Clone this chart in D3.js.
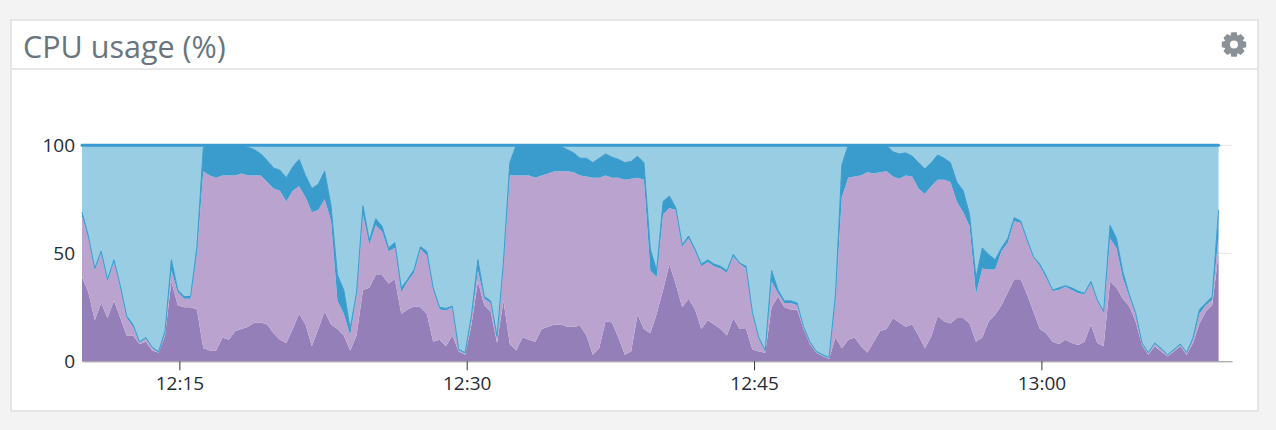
<!DOCTYPE html>
<html>
<head>
<meta charset="utf-8">
<script src="https://cdn.jsdelivr.net/npm/d3@7"></script>
<style>
  html, body { margin: 0; padding: 0; background: #f3f3f3; }
  svg { display: block; }
</style>
</head>
<body>
<svg id="chart" width="1276" height="430"></svg>
<script>
// ---- data (20 s samples, percent) ----
const startTime = "2024-01-01T12:09:55";
const stepSeconds = 20;
const yTicks = [0, 50, 100];
const xTickLabels = ["12:15", "12:30", "12:45", "13:00"];
const title = "CPU usage (%)";
const seriesNames = ["user", "system", "iowait", "idle"];

const user = [39,32,19,27,20,28,20,12,12,8,9,5,4,12,37,26,25,25,24,6,5,5,11,10,14,15,16,18,18,17,13,10,8.5,15,22,17,7,15,23,17,15,12,5,12,33,34,40,40,36,38,22,24,25.5,25,22,9,10,7,12,4.5,3,17,37,26,23,8.5,28,8,5,11,10,9,15,16,17,17,16,16,16.5,12,3,6,18.5,18,11,3,4.5,21.5,15,13,22,33,45,35.5,25,29,24,15,19,17,15,12,20,15,15,5.5,4.5,4,25,30,25,24,24,15,8,4,2.3,1.2,11,6,10,11,7,4,9,14,15,20,18,16,17,12,6,11.5,21,18.5,17.5,20,20,17.5,9,11,18.5,21.5,26,32,38,38,31,23,15,13,9,8,10,8.5,7.5,9,17,8.5,7,37,34,29,25.5,18.5,7.5,3,7,4.5,2.3,4.5,7,3,8.5,17.5,23,26,50];

const system = [28,25,23,23,17,18,14,8,4,0.5,1.5,1,0,1,5,6,4,4,26,82,81,80,75,76,72,72,70,68,68,66,67,69,65.5,64,59,59,62,55,52,48,13,10,7,19,35,20,23,20,15,14.5,10,13,15.5,27,27,24,14,16.5,13,0.5,0.5,3,5,3,4,2.5,16,78,81,75,76,76,71,71,71,71,72,71.5,69.5,73.5,82,79,67.5,67,74,81,80,63.5,69,29,17,35,26,34.5,28,28,27,29,27,27,28,29,28.5,30,28,16,5.5,0.5,12,1.5,2,3,2,0.5,0.5,0.2,0.3,0.3,18,70,75,74.5,79,83.5,78,73.5,73,65.5,66.5,70,68.5,68,71.5,69.5,63,65.5,65.5,54,49,45,22,32,24,21,25,23,27,26,24.5,25,29,25.5,23.5,25,24.5,24.5,24,22,19,19.5,15.5,20,18.5,9.5,4.5,3,0.5,0.5,1,1,0.4,0.5,0.5,0.5,1.5,4.5,3,2.5,8];

const iowait = [2,1,1,1,1,1,1,1,1,0.5,0.5,0.5,0.5,1,5,1,1,1,3,11,14,15,14,14,14,13,13,12,10,10,9.5,9.5,11,11,12.5,10,11,12,13,7,12,11,3,1,4,2,3,2.5,1.5,2.5,2,1,1.5,1,2,1,1,1,0.5,0.5,0.5,1.5,5,1,1,0.5,2,6,14,14,14,15,14,13,12,11.5,10,9,8,8.5,7,9,10,9.5,8.5,8,8,10,8,10,3,6,5.5,1,1,1,1,1,1,1,1,1,1,0.5,1,1,1,0.5,5,1.5,1,1,1,0.5,0.5,0.4,0.4,0.3,2,15,15,14.5,14,12.5,13,12.5,12,11.5,11.5,10.5,9.5,12,11.5,11,11.5,10,9,9,10,5.5,7.5,9.5,7,4.5,1.5,2,1.5,1,1,0.5,1,1,0.5,1,0.5,1,1,0.5,1,0.5,0.5,6,4.5,3,1,1,0.5,0.5,0.5,0.5,0.3,0.5,0.5,0.5,1,2,1,1.5,12];

// ---- build table ----
const t0 = new Date(startTime);
const rows = user.map((u, i) => {
  const s = system[i], w = iowait[i];
  return {
    time: d3.timeSecond.offset(t0, i * stepSeconds),
    user: u, system: s, iowait: w,
    idle: Math.max(0, 100 - u - s - w)
  };
});

const colors = { user: "#947fb8", system: "#bba3d0", iowait: "#3a9bcd", idle: "#99cde4" };

// ---- layout ----
const svg = d3.select("#chart");
const W = 1276, H = 430;
const panel = { x: 11, y: 20, w: 1247, h: 391, header: 49 };
const plot = { left: 82, right: 1232, top: 145.3, bottom: 361.3 };

svg.append("rect").attr("width", W).attr("height", H).attr("fill", "#f3f3f3");
svg.append("rect")
  .attr("x", panel.x).attr("y", panel.y).attr("width", panel.w).attr("height", panel.h)
  .attr("fill", "#ffffff").attr("stroke", "#dfdfe3").attr("stroke-width", 1.5);
svg.append("line")
  .attr("x1", panel.x).attr("x2", panel.x + panel.w)
  .attr("y1", panel.y + panel.header).attr("y2", panel.y + panel.header)
  .attr("stroke", "#dfdfe3").attr("stroke-width", 1.5);

svg.append("text")
  .attr("x", 23).attr("y", 58)
  .attr("font-family", "'Open Sans', sans-serif").attr("font-size", 30.5)
  .attr("fill", "#68757e").text(title);

// gear icon
(function gear() {
  const cx = 1234, cy = 44.5, teeth = 8, rOut = 12.5, rIn = 9.6, hole = 4;
  const pts = [];
  for (let k = 0; k < teeth; k++) {
    const a = (k / teeth) * 2 * Math.PI;
    const half = Math.PI / teeth;
    const tw = half * 0.55;
    pts.push([a - half + 0.02, rIn], [a - tw, rOut], [a + tw, rOut], [a + half - 0.02, rIn]);
  }
  const p = d3.path();
  pts.forEach(([a, r], j) => {
    const px = cx + r * Math.sin(a), py = cy - r * Math.cos(a);
    if (j === 0) p.moveTo(px, py); else p.lineTo(px, py);
  });
  p.closePath();
  p.moveTo(cx + hole, cy);
  p.arc(cx, cy, hole, 0, 2 * Math.PI, true);
  svg.append("path").attr("d", p.toString()).attr("fill", "#8a9197").attr("fill-rule", "evenodd");
})();

// ---- scales ----
const x = d3.scaleTime()
  .domain([t0, new Date("2024-01-01T13:09:57")])
  .range([plot.left, plot.right]);
const y = d3.scaleLinear().domain([0, 100]).range([plot.bottom, plot.top]);

// gridlines
svg.append("g").selectAll("line").data(yTicks.filter(v => v > 0)).join("line")
  .attr("x1", plot.left).attr("x2", plot.right)
  .attr("y1", d => y(d)).attr("y2", d => y(d))
  .attr("stroke", "#e4e4e4").attr("stroke-width", 1);

// ---- stacked areas ----
const stack = d3.stack().keys(seriesNames);
const layers = stack(rows);
const area = d3.area()
  .x(d => x(d.data.time))
  .y0(d => y(d[0])).y1(d => y(d[1]));
const topLine = d3.line().x(d => x(d.data.time)).y(d => y(d[1]));

svg.append("g").selectAll("path").data(layers).join("path")
  .attr("d", area)
  .attr("fill", d => colors[d.key]);

// iowait top edge
svg.append("path").datum(layers[2])
  .attr("d", topLine).attr("fill", "none")
  .attr("stroke", "#3a9bcd").attr("stroke-width", 1);
// total (100%) line
svg.append("path").datum(layers[3])
  .attr("d", topLine).attr("fill", "none")
  .attr("stroke", "#3a9bd2").attr("stroke-width", 3).attr("stroke-linecap", "round");

// ---- axes ----
const parse = d3.timeParse("%Y-%m-%d %H:%M");
const tickTimes = xTickLabels.map(s => parse("2024-01-01 " + s));
const xAxis = svg.append("g")
  .attr("transform", `translate(0,${plot.bottom})`)
  .call(d3.axisBottom(x).tickValues(tickTimes).tickFormat(d3.timeFormat("%H:%M")).tickSize(9).tickSizeOuter(0).tickPadding(6));
xAxis.select(".domain").attr("stroke", "#8f8f8f").attr("stroke-width", 1);
xAxis.selectAll(".tick line").attr("stroke", "#333").attr("stroke-width", 1);
xAxis.selectAll(".tick text")
  .attr("font-family", "'Open Sans', sans-serif").attr("font-size", 19).attr("fill", "#1f2b36");

const yAxis = svg.append("g")
  .attr("transform", `translate(${plot.left},0)`)
  .call(d3.axisLeft(y).tickValues(yTicks).tickSize(0).tickPadding(7));
yAxis.select(".domain").remove();
yAxis.selectAll(".tick text")
  .attr("font-family", "'Open Sans', sans-serif").attr("font-size", 19).attr("fill", "#1f2b36");
</script>
</body>
</html>
